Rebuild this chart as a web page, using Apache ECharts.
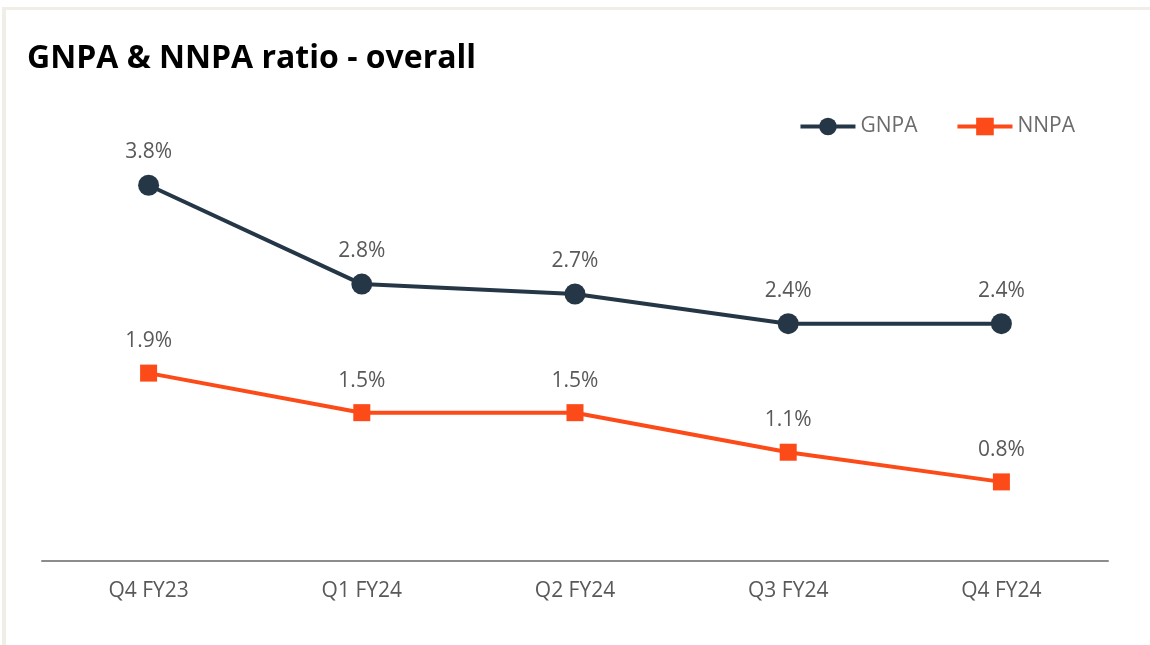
<!DOCTYPE html>
<html>
<head>
<meta charset="utf-8">
<script src="https://cdn.jsdelivr.net/npm/echarts@6/dist/echarts.min.js"></script>
<style>
  html, body { margin: 0; padding: 0; background: #fff; }
  #main { width: 1150px; height: 645px; }
</style>
</head>
<body>
<div id="main"></div>
<script>
  // quarters along the x axis
  const quarters = ['Q4 FY23', 'Q1 FY24', 'Q2 FY24', 'Q3 FY24', 'Q4 FY24'];
  // ratios in %
  const gnpa = [3.8, 2.8, 2.7, 2.4, 2.4];
  const nnpa = [1.9, 1.5, 1.5, 1.1, 0.8];

  const font = '"Open Sans", sans-serif';

  let chart = echarts.init(document.getElementById('main'));

  let pctLabel = {
    show: true,
    position: 'top',
    distance: 12,
    color: '#595959',
    fontFamily: font,
    fontSize: 21,
    formatter: (p) => p.value.toFixed(1) + '%'
  };

  chart.setOption({
    animation: false,
    title: {
      text: 'GNPA & NNPA ratio - overall',
      left: 22,
      top: 38,
      textStyle: { fontFamily: font, fontSize: 32, fontWeight: 'bold', color: '#000' }
    },
    legend: {
      right: 70,
      top: 111,
      itemWidth: 55,
      itemHeight: 22,
      itemGap: 38,
      lineStyle: { width: 4 },
      textStyle: { fontFamily: font, fontSize: 21, color: '#6b6b6b' },
      data: ['GNPA', 'NNPA']
    },
    graphic: [
      { type: 'rect', shape: { x: 2, y: 7, width: 1148, height: 3 }, style: { fill: '#f0eee6' } },
      { type: 'rect', shape: { x: 2, y: 7, width: 4, height: 638 }, style: { fill: '#f0eee6' } }
    ],
    grid: { left: 42, right: 42, top: 116, bottom: 84 },
    xAxis: {
      type: 'category',
      data: quarters,
      axisLine: { lineStyle: { color: '#8c8c8c', width: 2 } },
      axisTick: { show: false },
      axisLabel: { fontFamily: font, fontSize: 21, color: '#595959', margin: 20 }
    },
    yAxis: {
      type: 'value',
      min: 0,
      max: 4.5,
      show: false,
      splitLine: { show: false }
    },
    series: [
      {
        name: 'GNPA',
        type: 'line',
        data: gnpa,
        symbol: 'circle',
        symbolSize: 21,
        itemStyle: { color: '#253746' },
        lineStyle: { color: '#253746', width: 4 },
        label: pctLabel
      },
      {
        name: 'NNPA',
        type: 'line',
        data: nnpa,
        symbol: 'rect',
        symbolSize: 17,
        itemStyle: { color: '#fc4a18' },
        lineStyle: { color: '#fc4a18', width: 4 },
        label: Object.assign({}, pctLabel, { distance: 13 })
      }
    ]
  });
</script>
</body>
</html>
